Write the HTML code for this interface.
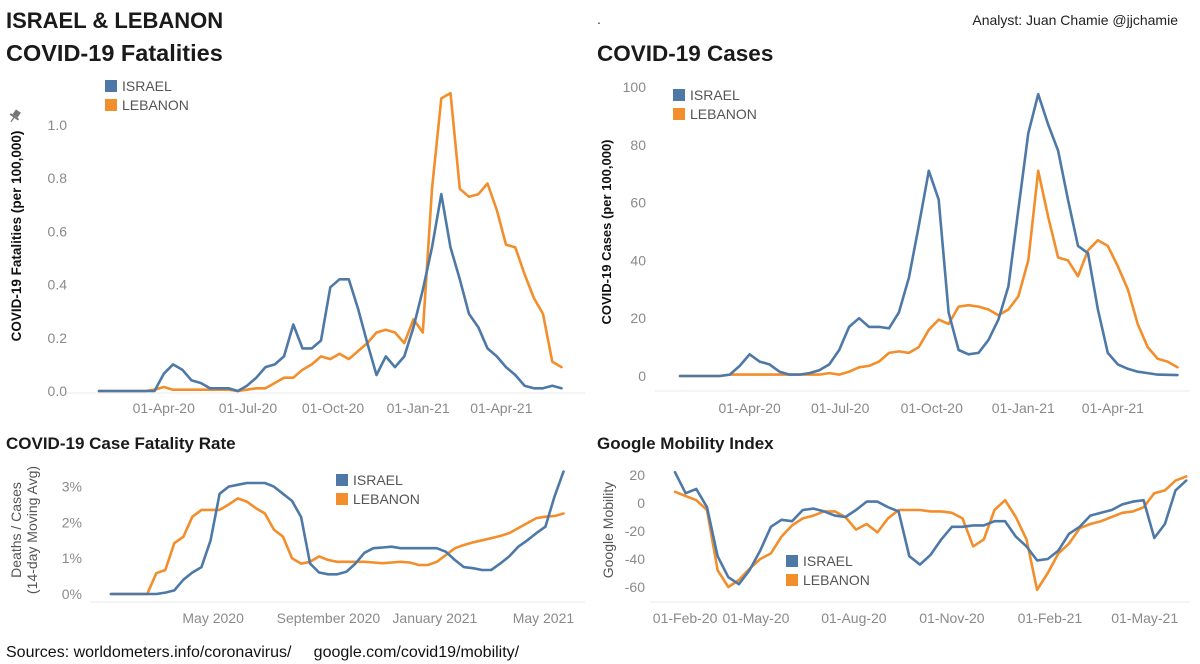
<!DOCTYPE html>
<html><head><meta charset="utf-8">
<style>
html,body{margin:0;padding:0;background:#fff;}
body{width:1200px;height:664px;overflow:hidden;position:relative;font-family:"Liberation Sans",sans-serif;}
svg{position:absolute;left:0;top:0;}
</style></head>
<body>
<svg id="dash" width="1200" height="664" viewBox="0 0 1200 664">
  <text x="6" y="28" font-size="22" font-weight="bold" fill="#1a1a1a">ISRAEL &amp; LEBANON</text>
  <text x="6" y="61" font-size="23.5" font-weight="bold" fill="#1a1a1a">COVID-19 Fatalities</text>
  <text x="597" y="24" font-size="14" fill="#333">.</text>
  <text x="597" y="61" font-size="22.5" font-weight="bold" fill="#1a1a1a">COVID-19 Cases</text>
  <text x="1178" y="25" font-size="14" fill="#222" text-anchor="end">Analyst: Juan Chamie @jjchamie</text>
  <text x="6" y="449" font-size="17" font-weight="bold" fill="#1a1a1a">COVID-19 Case Fatality Rate</text>
  <text x="597" y="449" font-size="17" font-weight="bold" fill="#1a1a1a">Google Mobility Index</text>
  <text x="6" y="657" font-size="16" fill="#111">Sources: worldometers.info/coronavirus/ &#160;&#160;&#160; google.com/covid19/mobility/</text>
  <g transform="translate(15,116) rotate(35)">
    <rect x="-3" y="-6" width="6" height="6" fill="#777"/>
    <rect x="-5" y="0" width="10" height="2" fill="#777"/>
    <line x1="0" y1="2" x2="0" y2="7" stroke="#777" stroke-width="1.2"/>
  </g>
  <g id="c1"></g>
  <g id="c2"></g>
  <g id="c3"></g>
  <g id="c4"></g>
</svg>
<script>
// ---- data (sampled every 10 days) ----
const fatStart = "2020-01-22";
const fatIsrael = [0,0,0,0,0,0,0,0.065,0.10,0.08,0.04,0.03,0.01,0.01,0.01,0,0.02,0.05,0.09,0.10,0.13,0.25,0.16,0.16,0.19,0.39,0.42,0.42,0.31,0.18,0.06,0.13,0.09,0.13,0.24,0.38,0.54,0.74,0.54,0.42,0.29,0.24,0.16,0.13,0.09,0.06,0.02,0.01,0.01,0.02,0.01];
const fatLebanon = [0,0,0,0,0,0,0.005,0.015,0.005,0.005,0.005,0.005,0.005,0.005,0.005,0,0.005,0.01,0.01,0.03,0.05,0.05,0.08,0.10,0.13,0.12,0.14,0.12,0.15,0.18,0.22,0.23,0.22,0.18,0.27,0.22,0.76,1.10,1.12,0.76,0.73,0.74,0.78,0.68,0.55,0.54,0.44,0.35,0.29,0.11,0.09];
const fatTicks = [0,0.2,0.4,0.6,0.8,1.0];
const fatTickLabels = ["0.0","0.2","0.4","0.6","0.8","1.0"];

const caseStart = "2020-01-22";
const casesIsrael = [0,0,0,0,0,0.5,3.5,7.5,5,4,1.5,0.5,0.5,1,2,4,9,17,20,17,17,16.5,22,34,52,71,61,22,9,7.5,8,12.5,19.5,31,57.5,84,97.5,87,78,61,45,42.5,23,8,4,2.5,1.5,1,0.5,0.4,0.3];
const casesLebanon = [0,0,0,0,0,0.5,0.5,0.5,0.5,0.5,0.5,0.5,0.5,0.5,0.5,1,0.5,1.5,3,3.5,5,8,8.5,8,10,16,19.5,18,24,24.5,24,23,21,23,27.5,40,71,55,41,40,34.5,43.5,47,45,38,30,18,10,6,5,3];
const caseTicks = [0,20,40,60,80,100];

const cfrStart = "2020-01-18";
const cfrIsrael = [0,0,0,0,0,0,0.04,0.1,0.4,0.6,0.75,1.5,2.8,3.0,3.05,3.1,3.1,3.1,3.0,2.8,2.6,2.15,0.85,0.6,0.55,0.55,0.62,0.85,1.15,1.28,1.3,1.32,1.28,1.28,1.28,1.28,1.28,1.18,0.95,0.75,0.72,0.67,0.67,0.85,1.05,1.32,1.5,1.7,1.88,2.72,3.42];
const cfrLebanon = [0,0,0,0,0,0.58,0.67,1.42,1.6,2.16,2.35,2.35,2.35,2.5,2.67,2.58,2.4,2.25,1.8,1.6,1.0,0.85,0.9,1.05,0.95,0.9,0.9,0.9,0.9,0.88,0.86,0.88,0.9,0.88,0.81,0.81,0.9,1.09,1.28,1.37,1.44,1.5,1.56,1.62,1.7,1.84,1.98,2.12,2.16,2.18,2.25];
const cfrTicks = [0,1,2,3];
const cfrTickLabels = ["0%","1%","2%","3%"];
const cfrDateLabels = ["May 2020","September 2020","January 2021","May 2021"];

const mobStart = "2020-02-15";
const mobIsrael = [22,7,10,-3,-38,-53,-58,-48,-34,-17,-12,-13,-5,-4,-6,-9,-10,-5,1,1,-3,-6,-38,-44,-37,-26,-17,-17,-16,-16,-13,-13,-24,-31,-41,-40,-34,-22,-17,-9,-7,-5,-1,1,2,-25,-15,9,16];
const mobLebanon = [8,5,2,-5,-48,-60,-55,-47,-40,-36,-24,-16,-11,-9,-6,-6,-10,-19,-15,-21,-11,-5,-5,-5,-6,-6,-7,-11,-31,-26,-5,2,-10,-26,-62,-50,-36,-29,-18,-15,-13,-10,-7,-6,-3,7,9,16,19];
const mobTicks = [-60,-40,-20,0,20];

const BLUE = "#4e79a7", ORANGE = "#f28e2b", NS = "http://www.w3.org/2000/svg";
function days(s){return (Date.parse(s+"T00:00:00Z"))/86400000;}
function mk(parent, tag, attrs, txt){
  const e = document.createElementNS(NS, tag);
  for (const k in attrs) e.setAttribute(k, attrs[k]);
  if (txt !== undefined) e.textContent = txt;
  parent.appendChild(e);
  return e;
}

function chart(cfg){
  const g = document.getElementById(cfg.id);
  const X = d => cfg.x0 + (d - days(cfg.dateRef)) * cfg.pxDay;
  const Y = v => cfg.y0 - (v - cfg.v0) * cfg.pxVal;
  const bl = mk(g,"line",{x1:cfg.bx1,x2:cfg.bx2,y1:cfg.by,y2:cfg.by,stroke:"#e8e8e8","stroke-width":1});
  
  
  cfg.yTicks.forEach((t,i)=>{
    const tx = mk(g,"text",{x:cfg.yLabX,y:Y(t)+5,"font-size":14,fill:"#8a8a8a","text-anchor":"end"}, cfg.yLabels ? cfg.yLabels[i] : String(t));
    
    
  });
  cfg.xTicks.forEach((t,i)=>{
    const tx = mk(g,"text",{x:X(days(t))+(cfg.xOff?cfg.xOff[i]:0),y:cfg.xLabY,"font-size":14,fill:"#8a8a8a","text-anchor":"middle"}, cfg.xLabels[i]);
    
    
  });
  cfg.yTitle.forEach((tl,i)=>{
    const tx = mk(g,"text",{x:0,y:0,"font-size":cfg.yTitleSize,"font-weight":cfg.yTitleBold?"bold":"normal",fill:cfg.yTitleBold?"#111":"#555","text-anchor":"middle",transform:`translate(${tl.x},${cfg.yTitleY}) rotate(-90)`}, tl.t);
    
    
  });
  const s0 = days(cfg.start);
  [[cfg.lebanon,ORANGE,"lebanon-line"],[cfg.israel,BLUE,"israel-line"]].forEach(([arr,col,nm])=>{
    const pts = arr.map((v,i)=>X(s0 + i*10).toFixed(1)+","+Y(v).toFixed(1)).join(" ");
    const p = mk(g,"polyline",{points:pts,fill:"none",stroke:col,"stroke-width":2.6,"stroke-linejoin":"round","stroke-linecap":"round"});
    
    
  });
  [["ISRAEL",BLUE,0],["LEBANON",ORANGE,1]].forEach(([lab,col,i])=>{
    const y = cfg.legY + i*cfg.legGap;
    const r = mk(g,"rect",{x:cfg.legX,y:y,width:12,height:12,fill:col});
    
    
    const tx = mk(g,"text",{x:cfg.legX+17,y:y+11,"font-size":cfg.legSize,fill:"#555"}, lab);
    
    
  });
}

chart({id:"c1",start:fatStart,israel:fatIsrael,lebanon:fatLebanon,dateRef:"2020-01-22",x0:99,pxDay:0.925,
  y0:391,v0:0,pxVal:266,bx1:65,bx2:585,by:393,yTicks:fatTicks,yLabels:fatTickLabels,yLabX:67,
  xTicks:["2020-04-01","2020-07-01","2020-10-01","2021-01-01","2021-04-01"],xLabels:["01-Apr-20","01-Jul-20","01-Oct-20","01-Jan-21","01-Apr-21"],xLabY:413,
  yTitle:[{t:"COVID-19 Fatalities (per 100,000)",x:21}],yTitleY:236,yTitleSize:13.5,yTitleBold:true,
  legX:105,legY:80,legGap:19,legSize:14});
chart({id:"c2",start:caseStart,israel:casesIsrael,lebanon:casesLebanon,dateRef:"2020-01-22",x0:680,pxDay:0.995,
  y0:376,v0:0,pxVal:2.89,bx1:655,bx2:1190,by:391,yTicks:caseTicks,yLabX:646,
  xTicks:["2020-04-01","2020-07-01","2020-10-01","2021-01-01","2021-04-01"],xLabels:["01-Apr-20","01-Jul-20","01-Oct-20","01-Jan-21","01-Apr-21"],xLabY:413,
  yTitle:[{t:"COVID-19 Cases (per 100,000)",x:611}],yTitleY:232,yTitleSize:13,yTitleBold:true,
  legX:673,legY:89,legGap:19,legSize:14});
chart({id:"c3",start:cfrStart,israel:cfrIsrael,lebanon:cfrLebanon,dateRef:"2020-01-18",x0:111,pxDay:0.905,
  y0:594,v0:0,pxVal:35.8,bx1:90,bx2:585,by:602,yTicks:cfrTicks,yLabels:cfrTickLabels,yLabX:82,
  xTicks:["2020-05-01","2020-09-01","2021-01-01","2021-05-01"],xLabels:cfrDateLabels,xOff:[8,12,8,8],xLabY:623,
  yTitle:[{t:"Deaths / Cases",x:21},{t:"(14-day Moving Avg)",x:37}],yTitleY:530,yTitleSize:14,yTitleBold:false,
  legX:336,legY:474,legGap:19,legSize:14});
chart({id:"c4",start:mobStart,israel:mobIsrael,lebanon:mobLebanon,dateRef:"2020-02-15",x0:675,pxDay:1.065,
  y0:503,v0:0,pxVal:1.4,bx1:650,bx2:1190,by:602,yTicks:mobTicks,yLabX:645,
  xTicks:["2020-02-01","2020-05-01","2020-08-01","2020-11-01","2021-02-01","2021-05-01"],xLabels:["01-Feb-20","01-May-20","01-Aug-20","01-Nov-20","01-Feb-21","01-May-21"],xOff:[25,0,0,0,0,0],xLabY:623,
  yTitle:[{t:"Google Mobility",x:613}],yTitleY:530,yTitleSize:14,yTitleBold:false,
  legX:786,legY:555,legGap:19,legSize:14});
</script>
</body></html>
